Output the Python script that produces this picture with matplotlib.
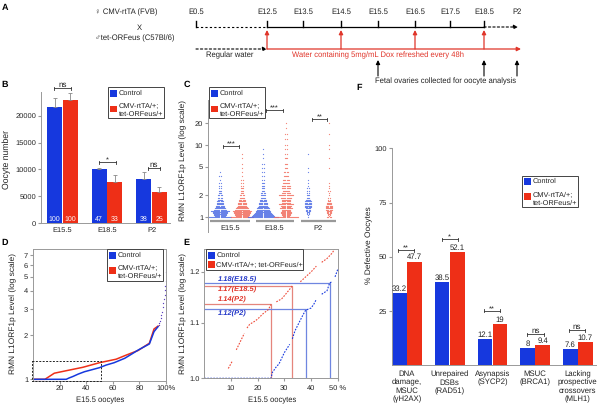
import matplotlib
matplotlib.use('Agg')
import matplotlib.pyplot as plt
from matplotlib.patches import Rectangle
import numpy as np

plt.rcParams['font.family'] = ['Liberation Sans', 'DejaVu Sans']
plt.rcParams['font.size'] = 5.4
plt.rcParams['text.hinting'] = 'no_hinting'
plt.rcParams['axes.linewidth'] = 0.7
plt.rcParams['axes.edgecolor'] = '#999999'
plt.rcParams['xtick.color'] = '#999999'
plt.rcParams['ytick.color'] = '#999999'
plt.rcParams['xtick.labelcolor'] = '#222222'
plt.rcParams['ytick.labelcolor'] = '#222222'
plt.rcParams['xtick.major.size'] = 2
plt.rcParams['ytick.major.size'] = 2
plt.rcParams['xtick.major.pad'] = 1.5
plt.rcParams['ytick.major.pad'] = 1.5

BLUE = '#1638de'
RED = '#ee2f17'
LBLUE = '#4f6ee6'
LRED = '#f26f5f'
TXT = '#222222'

# panel A
tl_labels = ['E0.5', 'E12.5', 'E13.5', 'E14.5', 'E15.5', 'E16.5', 'E17.5', 'E18.5', 'P2']
dox_refresh = ['E12.5', 'E14.5', 'E16.5', 'E18.5']
collected = ['E15.5', 'E18.5', 'P2']

# panel B
b_groups = ['E15.5', 'E18.5', 'P2']
b_control = [21600, 10000, 8300]
b_treated = [22950, 7650, 5850]
b_control_err = [1800, 300, 1200]
b_treated_err = [1350, 1250, 850]
b_control_n = [100, 47, 38]
b_treated_n = [100, 33, 25]

# panel C, oocytes per level row of each swarm
c_levels = [1.0, 1.03, 1.06, 1.1, 1.14, 1.18, 1.22, 1.27, 1.32, 1.38, 1.44, 1.5, 1.58, 1.66,
            1.75, 1.85, 2.0, 2.15, 2.3, 2.5, 2.7, 3.0, 3.3, 3.7, 4.2, 4.8, 5.5, 6.5, 7.5,
            8.8, 10, 12, 14, 17, 20]
c_e15_control = [22, 10, 12, 13, 14, 15, 18, 12, 11, 9, 8, 7, 7, 6, 5, 4, 4, 3, 3, 2, 2, 2, 1, 2, 1,
                 0, 0, 0, 0, 0, 0, 0, 0, 0, 0]
c_e15_treated = [22, 12, 14, 15, 16, 17, 18, 15, 13, 11, 9, 8, 8, 7, 6, 5, 4, 3, 3, 3, 2, 2, 2, 1, 1,
                 1, 1, 1, 1, 0, 0, 0, 0, 0, 0]
c_e18_control = [30, 22, 20, 18, 16, 15, 14, 13, 12, 11, 9, 8, 8, 7, 6, 5, 5, 4, 3, 3, 3, 3, 2, 2, 2,
                 2, 2, 1, 1, 1, 0, 0, 0, 0, 0]
c_e18_treated = [24, 6, 8, 8, 10, 10, 8, 9, 12, 8, 10, 14, 9, 8, 9, 10, 14, 8, 7, 8, 8, 7, 6, 5, 4,
                 3, 3, 3, 2, 2, 2, 2, 2, 1, 1]
c_p2_control = [1, 0, 1, 2, 2, 3, 4, 4, 5, 6, 7, 7, 6, 7, 5, 3, 3, 2, 2, 2, 1, 1, 1, 0, 1,
                1, 0, 0, 1, 0, 0, 0, 0, 0, 0]
c_p2_treated = [4, 1, 2, 3, 4, 4, 5, 6, 7, 6, 6, 5, 5, 3, 2, 2, 1, 1, 2, 1, 1, 1, 0, 0, 0,
                1, 0, 1, 0, 1, 1, 0, 1, 0, 1]
c_group_labels = ['E15.5', 'E18.5', 'P2']

# panel D
d_control_x = [0, 25, 27, 30, 34, 38.7, 44, 50, 55, 61, 69, 75, 79, 87.5, 91, 94]
d_control_y = [1.0, 1.0, 1.02, 1.045, 1.085, 1.126, 1.16, 1.2, 1.25, 1.297, 1.39, 1.5, 1.58, 1.74, 2.11, 2.28]
d_treated_x = [0, 9, 16, 25, 37.5, 50, 62.5, 70, 79, 87.5, 91, 94]
d_treated_y = [1.0, 1.0, 1.1, 1.144, 1.207, 1.297, 1.37, 1.46, 1.57, 1.76, 2.2, 2.3]
d_tail_x = [94.5, 95, 95.5, 96, 96.5, 97, 97.5, 98, 98.5, 99, 99.3, 99.6, 99.8, 100]
d_tail_y = [2.35, 2.42, 2.5, 2.6, 2.72, 2.85, 3.1, 3.3, 3.5, 3.75, 4.05, 4.3, 4.7, 5.4]

# panel E, nan marks the gaps between runs of dots
nan = float('nan')
e_control_x = [0, 5, 10, 15, 20, 25, 25.5, 27, 28, 30, 32, nan, 33, 34, 35, 36, 37, 38, 40, 41, 42, nan, 44, 46, 47, 48, nan, 49, 50]
e_control_y = [1.0, 1.0, 1.0, 1.0, 1.0, 1.0, 1.01, 1.02, 1.025, 1.045, 1.06, nan, 1.07, 1.085, 1.095, 1.105, 1.115,
               1.124, 1.128, 1.135, 1.145, nan, 1.155, 1.162, 1.178, 1.18, nan, 1.19, 1.205]
e_treated_x = [9, 10.5, nan, 12, 13, 14, 15, nan, 16, 17, 19, 20, 22, 24, 25, nan, 27, 29, 30, 32, 33, nan, 36, 38, 40, 42, nan, 44, 46, 48, 49]
e_treated_y = [1.017, 1.03, nan, 1.05, 1.06, 1.07, 1.08, nan, 1.09, 1.097, 1.103, 1.107, 1.117, 1.125, 1.135, nan, 1.14, 1.146,
               1.152, 1.165, 1.172, nan, 1.18, 1.19, 1.2, 1.212, nan, 1.22, 1.228, 1.24, 1.25]
e_med_x = [47, 33, 25, 38]
e_med_y = [1.178, 1.172, 1.136, 1.126]
e_med_labels = ['1.18(E18.5)', '1.17(E18.5)', '1.14(P2)', '1.12(P2)']

# panel F
f_groups = ['DNA\ndamage,\nMSUC\n(γH2AX)', 'Unrepaired\nDSBs\n(RAD51)', 'Asynapsis\n(SYCP2)',
            'MSUC\n(BRCA1)', 'Lacking\nprospective\ncrossovers\n(MLH1)']
f_control = [33.2, 38.5, 12.1, 8, 7.6]
f_treated = [47.7, 52.1, 19, 9.4, 10.7]

fig = plt.figure(figsize=(6, 4.05), dpi=100)


def add_ax(l, t, r, b):
    return fig.add_axes([l / 600, 1 - b / 405, (r - l) / 600, (b - t) / 405])


def label_at(ax, box, xlabel=None, xpos=None, ylabel=None, ypos=None, size=6):
    l, t, r, b = box
    if ylabel:
        ax.set_ylabel(ylabel, fontsize=size, color=TXT)
        ax.yaxis.set_label_coords((ypos[0] - l) / (r - l), (b - ypos[1]) / (b - t))
    if xlabel:
        ax.set_xlabel(xlabel, fontsize=5.5, color=TXT)
        ax.xaxis.set_label_coords((xpos[0] - l) / (r - l), (b - xpos[1]) / (b - t))


# pixel overlay for panel A, legends, brackets
pg = fig.add_axes([0, 0, 1, 1], zorder=10)
pg.set_xlim(0, 600)
pg.set_ylim(405, 0)
pg.axis('off')
pg.patch.set_alpha(0)


def bracket(x0, x1, y, txt):
    pg.plot([x0, x1], [y, y], color='#333333', lw=0.6)
    pg.plot([x0, x0], [y - 1.5, y + 1.5], color='#333333', lw=0.6)
    pg.plot([x1, x1], [y - 1.5, y + 1.5], color='#333333', lw=0.6)
    if txt == 'ns':
        pg.text((x0 + x1) / 2, y - 3.5, txt, ha='center', va='center', fontsize=5.8, color=TXT)
    else:
        pg.text((x0 + x1) / 2, y - 1.2, txt, ha='center', va='center', fontsize=5.4, color=TXT)


def legend_box(x0, y0, x1, y1, blue_y, red_y, lines):
    pg.add_patch(Rectangle((x0, y0), x1 - x0, y1 - y0, fc='white', ec='#444444', lw=0.7))
    pg.add_patch(Rectangle((x0 + 2, blue_y), 7, 6.5, fc=BLUE, ec='none'))
    pg.add_patch(Rectangle((x0 + 2, red_y), 7, 6.5, fc=RED, ec='none'))
    for txt, y in lines:
        pg.text(x0 + 10.5, y, txt, ha='left', va='center', fontsize=5.3, color=TXT)


def arrow(x0, y0, x1, y1, color, ls='-', lw=0.9):
    pg.annotate('', xy=(x1, y1), xytext=(x0, y0),
                arrowprops=dict(arrowstyle='-|>,head_width=0.15,head_length=0.3', color=color,
                                lw=lw, ls=ls, shrinkA=0, shrinkB=0, mutation_scale=8))


for letter, x, y in [('A', 5, 8), ('B', 5, 85), ('C', 187, 85), ('D', 5, 243), ('E', 186, 243), ('F', 359, 88)]:
    pg.text(x, y, letter, fontsize=6.5, fontweight='bold', ha='center', va='center', color='black')

# ---- A
tl_x = dict(zip(tl_labels, [196, 267, 303, 341, 378, 415, 450, 484, 517]))
for name in tl_labels:
    pg.text(tl_x[name], 12, name, ha='center', va='center', fontsize=5.5, color=TXT)
    if name != 'P2':
        pg.plot([tl_x[name]] * 2, [21, 27], color='black', lw=1.0)
pg.plot([196, 267], [27, 27], color='black', lw=0.8, ls=(0, (2, 2)))
pg.plot([267, 484], [27, 27], color='black', lw=0.9)
arrow(484, 27, 518, 27, 'black', ls=(0, (2, 2)), lw=0.8)
arrow(196, 49, 267, 49, 'black', ls=(0, (2, 2)), lw=0.8)
arrow(267, 49, 521, 49, '#e0352a')
for name in dox_refresh:
    arrow(tl_x[name], 49, tl_x[name], 30, '#e0352a')
for name in collected:
    arrow(tl_x[name], 76, tl_x[name], 60, 'black', lw=0.8)
pg.text(230, 55, 'Regular water', ha='center', va='center', fontsize=5.5, color=TXT)
pg.text(378, 55, 'Water containing 5mg/mL Dox refreshed every 48h', ha='center', va='center',
        fontsize=5.5, color='#e0352a')
pg.text(446, 81.5, 'Fetal ovaries collected for oocyte analysis', ha='center', va='center',
        fontsize=5.5, color=TXT)
pg.text(95, 12.5, '♀ CMV-rtTA (FVB)', ha='left', va='center', fontsize=5.5, color=TXT)
pg.text(139, 27.5, 'X', ha='center', va='center', fontsize=5.5, color=TXT)
pg.text(95, 38.5, '♂tet-ORFeus (C57Bl/6)', ha='left', va='center', fontsize=5.5, color=TXT)

# ---- B
box_b = (41, 92, 170, 223)
ax = add_ax(*box_b)
x = np.arange(3)
off = 0.178
w = 0.34
err_kw = dict(ecolor='#888888', elinewidth=0.6, capsize=1.5, capthick=0.6)
ax.bar(x - off, b_control, w, color=BLUE, yerr=[[0] * 3, b_control_err], error_kw=err_kw)
ax.bar(x + off, b_treated, w, color=RED, yerr=[[0] * 3, b_treated_err], error_kw=err_kw)
for i in range(3):
    ax.text(i - off, 700, str(b_control_n[i]), color='white', ha='center', va='center', fontsize=5)
    ax.text(i + off, 700, str(b_treated_n[i]), color='white', ha='center', va='center', fontsize=5)
ax.set_xlim(-0.483, 2.416)
ax.set_ylim(0, 24440)
ax.set_xticks(x)
ax.set_xticklabels(b_groups)
ax.set_yticks([0, 5000, 10000, 15000, 20000])
ax.tick_params(axis='x', length=0, pad=2.5)
ax.spines[['top', 'right']].set_visible(False)
label_at(ax, box_b, ylabel='Oocyte number', ypos=(11, 160), size=6.2)
bracket(54, 71, 88, 'ns')
bracket(99, 115.7, 162, '*')
bracket(147.7, 160, 168, 'ns')
legend_box(108, 87, 164, 118, 90, 105.5, [('Control', 93.3), ('CMV-rtTA/+;', 105), ('tet-ORFeus/+', 114)])

# ---- C
box_c = (208, 100, 340, 232)
ax = add_ax(*box_c)
ax.set_yscale('log')
c_swarms = [(c_e15_control, 12, LBLUE), (c_e15_treated, 34, LRED), (c_e18_control, 55, LBLUE),
            (c_e18_treated, 78, LRED), (c_p2_control, 100, LBLUE), (c_p2_treated, 121, LRED)]
for counts, cx, col in c_swarms:
    xs, ys = [], []
    for lev, n in zip(c_levels, counts):
        for i in range(n):
            xs.append(cx + (i - (n - 1) / 2) * 1.05)
            ys.append(lev)
    ax.scatter(xs, ys, s=0.8, color=col, linewidths=0, alpha=0.85)
ax.set_xlim(0, 132)
ax.set_ylim(10 ** (-15 / 72), 10 ** (117 / 72))
ax.set_yticks([1, 2, 5, 10, 20])
ax.set_yticklabels(['1', '2', '5', '10', '20'])
ax.minorticks_off()
ax.set_xticks([22, 66, 110])
ax.set_xticklabels(c_group_labels)
ax.tick_params(axis='x', length=0, pad=-5.4)
ax.spines[['top', 'right', 'bottom']].set_visible(False)
label_at(ax, box_c, ylabel='RMN L1ORF1p Level (log scale)', ypos=(187, 160))
for x0, x1 in [(210, 250), (256, 294), (301, 336)]:
    pg.plot([x0, x1], [221, 221], color='#999999', lw=1.6, solid_capstyle='butt')
bracket(222.7, 239, 146, '***')
bracket(266, 282.7, 110, '***')
bracket(311.7, 327.3, 119, '**')
legend_box(209, 87, 265, 118, 90, 105.5, [('Control', 93.3), ('CMV-rtTA/+;', 105), ('tet-ORFeus/+', 114)])

# ---- D
box_d = (33, 249, 166, 381)
ax = add_ax(*box_d)
ax.set_yscale('log')
ax.plot(d_treated_x, d_treated_y, color=RED, lw=1.1)
ax.plot(d_control_x, d_control_y, color=BLUE, lw=1.1)
ax.scatter(d_tail_x, d_tail_y, s=0.9, color='#5a3fc0', linewidths=0)
ax.set_xlim(0, 100)
ax.set_ylim(10 ** (-1.7 / 147), 10 ** (130.3 / 147))
ax.set_yticks([1, 2, 3, 4, 5, 6, 7])
ax.set_yticklabels(['1', '2', '3', '4', '5', '6', '7'])
ax.minorticks_off()
ax.set_xticks([20, 40, 60, 80, 100])
ax.set_xticklabels(['20', '40', '60', '80', '100%'])
ax.tick_params(axis='x', pad=1)
label_at(ax, box_d, xlabel='E15.5 oocytes', xpos=(100, 397), ylabel='RMN L1ORF1p Level (log scale)',
         ypos=(17, 313))
pg.add_patch(Rectangle((32, 361), 69, 20, fc='none', ec='#222222', lw=0.7, ls=(0, (2, 1.5))))
legend_box(107, 249, 163, 281, 252, 267, [('Control', 255.3), ('CMV-rtTA/+;', 267), ('tet-ORFeus/+', 276)])

# ---- E
box_e = (204.3, 249, 337.7, 378.3)
ax = add_ax(*box_e)
ax.set_yscale('log')
med_cols = ['#6f86e0', '#e5857c', '#e5857c', '#6f86e0']
med_txt = ['#2438c8', '#e0352a', '#e0352a', '#2438c8']
for mx, my, col in zip(e_med_x, e_med_y, med_cols):
    ax.plot([0, mx, mx], [my, my, 1.0], color=col, lw=0.9)
ax.plot(e_treated_x, e_treated_y, color='#ee4a38', lw=0.8, ls=(0, (1.5, 1.2)))
ax.plot(e_control_x, e_control_y, color=BLUE, lw=0.8, ls=(0, (1.5, 1.2)), clip_on=False)
ax.set_xlim(0, 50)
ax.set_ylim(1.0, 10 ** (129.3 / 1343))
ax.set_yticks([1.0, 1.1, 1.2])
ax.set_yticklabels(['1.0', '1.1', '1.2'])
ax.minorticks_off()
ax.set_xticks([10, 20, 30, 40, 50])
ax.set_xticklabels(['10', '20', '30', '40', '50 %'])
ax.tick_params(axis='x', pad=2.5)
label_at(ax, box_e, xlabel='E15.5 oocytes', xpos=(272, 397), ylabel='RMN L1ORF1p Level (log scale)',
         ypos=(187, 313))
for txt, y, col in zip(e_med_labels, [279, 289, 299, 313], med_txt):
    pg.text(218, y, txt, color=col, fontsize=5.4, fontweight='bold', fontstyle='italic', ha='left', va='center')
legend_box(206, 249, 303, 270, 252, 261, [('Control', 255), ('CMV-rtTA/+; tet-ORFeus/+', 264)])

# ---- F
box_f = (391.7, 148.3, 596, 365.3)
ax = add_ax(*box_f)
x = np.arange(5)
off = 0.177
w = 0.34
ax.bar(x - off, f_control, w, color=BLUE)
ax.bar(x + off, f_treated, w, color=RED)
for i in range(5):
    ax.text(i - off, f_control[i] + 0.3, f'{f_control[i]:g}', ha='center', va='bottom', fontsize=5.6, color=TXT)
    ax.text(i + off, f_treated[i] + 0.3, f'{f_treated[i]:g}', ha='center', va='bottom', fontsize=5.6, color=TXT)
ax.set_xlim((391.7 - 407) / 42.7, (596 - 407) / 42.7)
ax.set_ylim(0, 100)
ax.set_yticks([25, 50, 75, 100])
ax.set_xticks(x)
ax.set_xticklabels(f_groups, fontsize=5.6, linespacing=1.18)
ax.tick_params(axis='x', length=0, pad=3.5)
ax.spines[['top', 'right']].set_visible(False)
label_at(ax, box_f, ylabel='% Defective Oocytes', ypos=(373, 245))
bracket(398, 414, 250, '**')
bracket(441.7, 457.7, 239, '*')
bracket(483.7, 500.3, 310.7, '**')
bracket(527, 543.7, 334, 'ns')
bracket(568.7, 584.7, 330, 'ns')
legend_box(522, 176, 578, 207, 178, 193, [('Control', 181.5), ('CMV-rtTA/+;', 194), ('tet-ORFeus/+', 203)])

fig.savefig('out.png', dpi=100)
